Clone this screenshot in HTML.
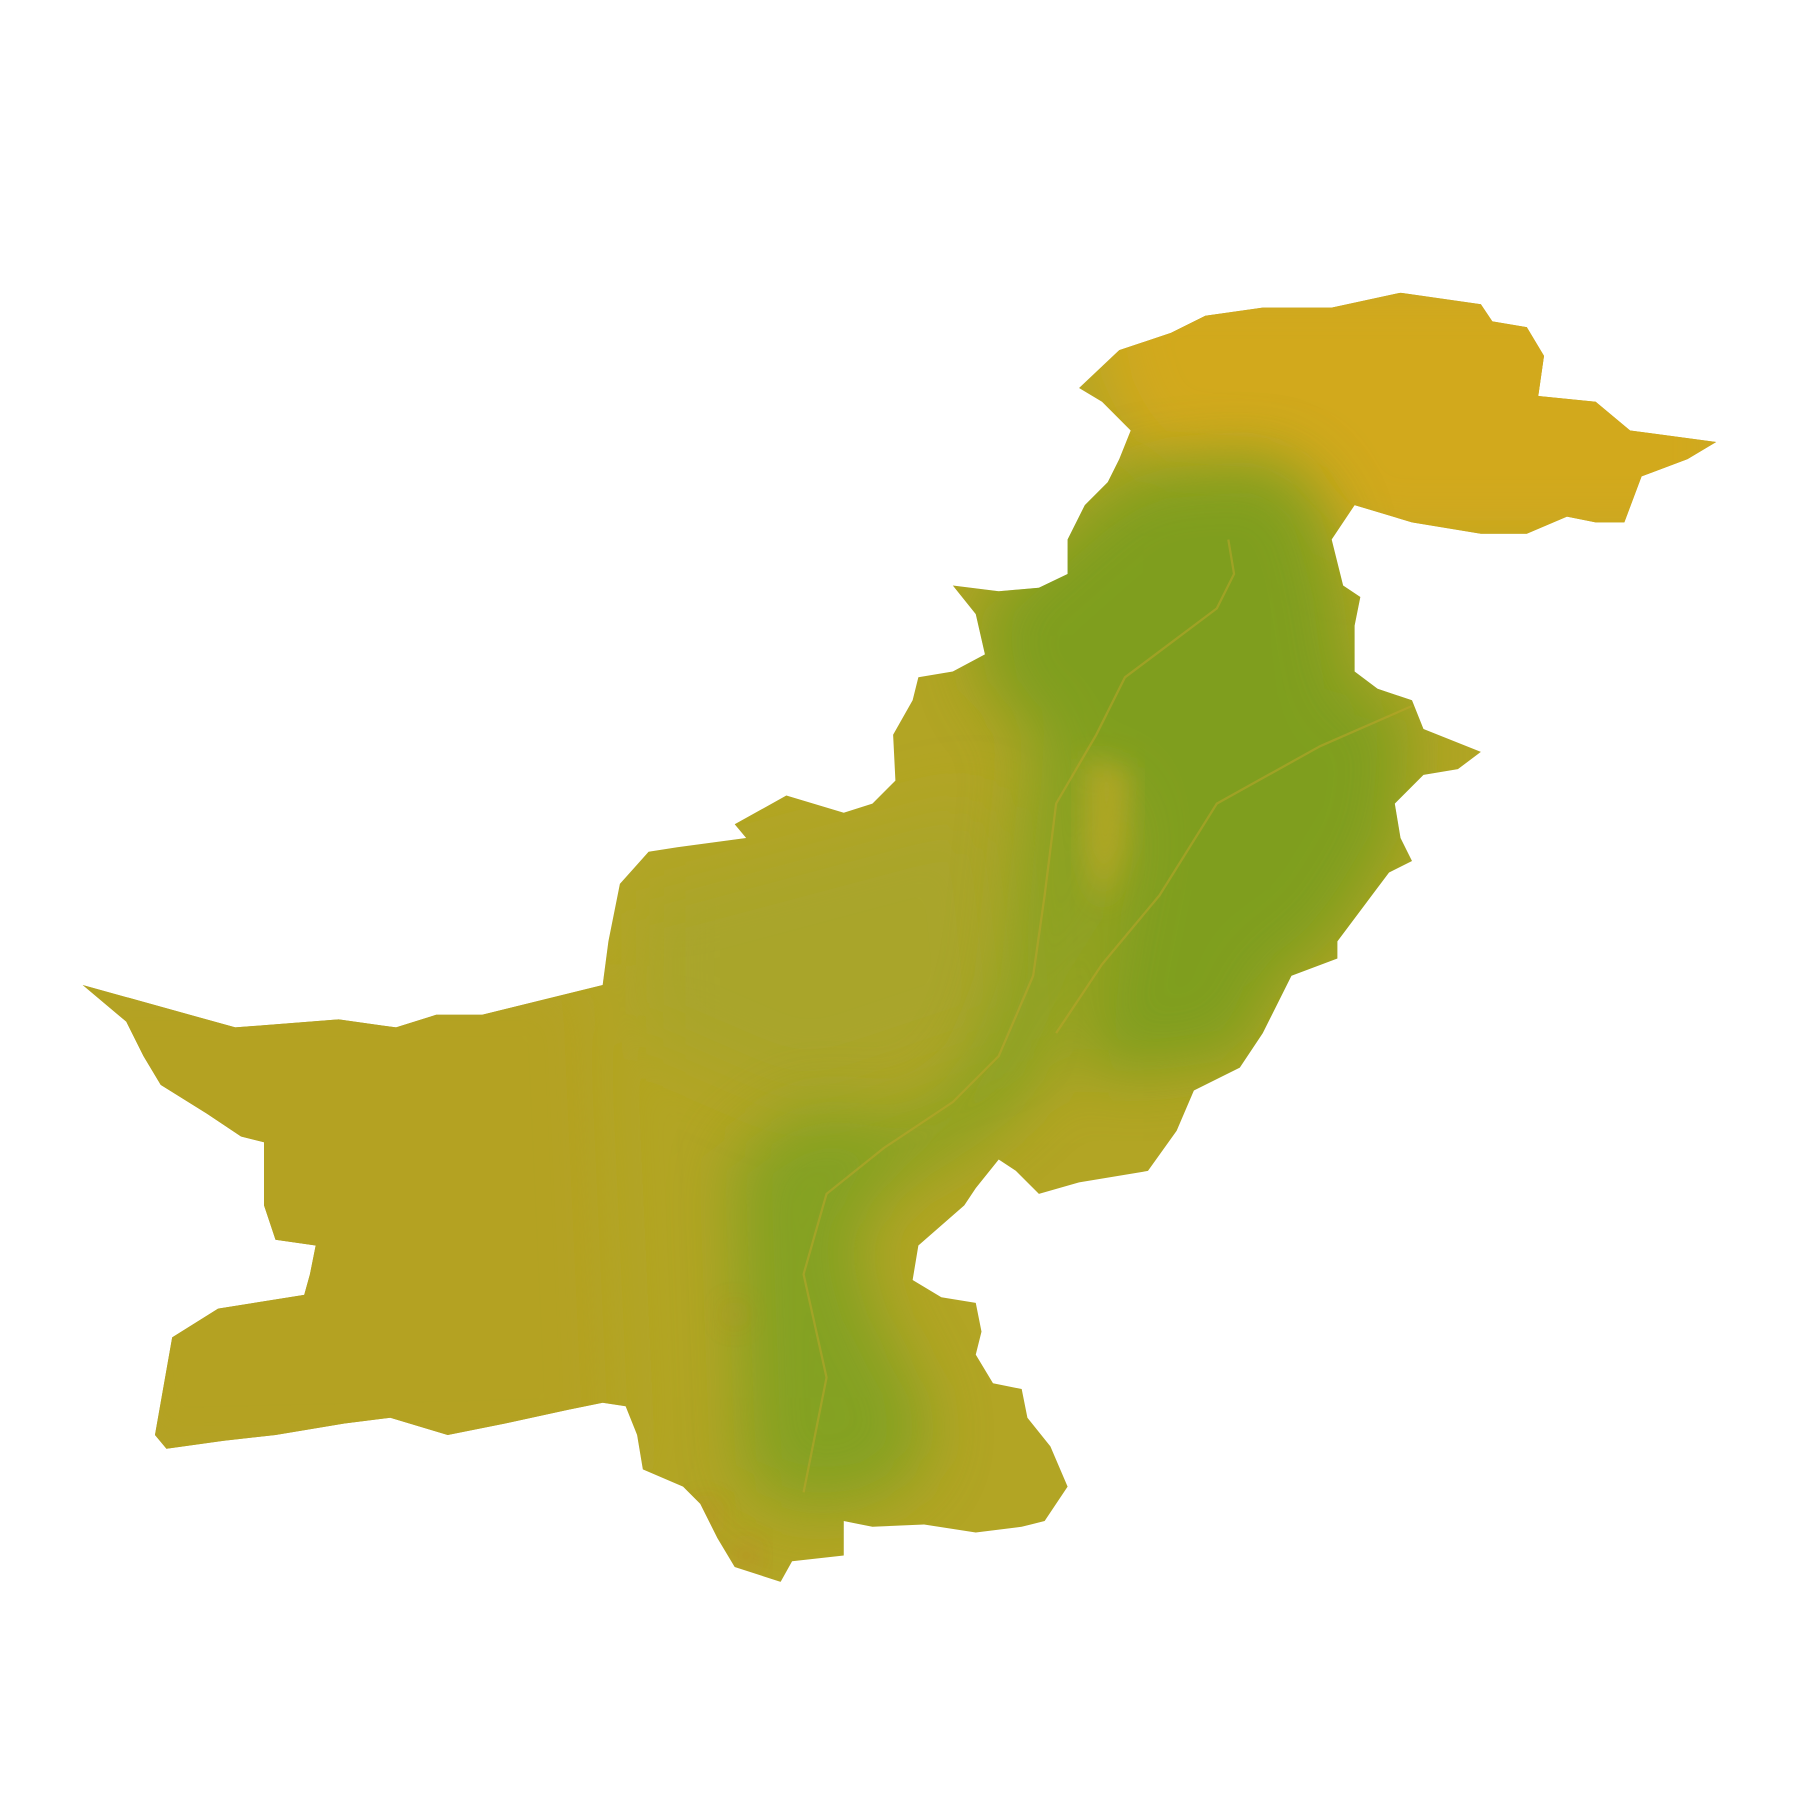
<!DOCTYPE html>
<html><head><meta charset="utf-8"><style>
html,body{margin:0;padding:0;background:#fff;width:1800px;height:1800px;overflow:hidden}
svg{display:block}
</style></head><body>
<svg width="1800" height="1800" viewBox="0 0 1568 1568" xmlns="http://www.w3.org/2000/svg">
<defs>
<clipPath id="cp"><polygon points="72,858 205,895 295,888 345,895 380,884 420,884 525,858 530,820 540,770 565,742 590,738 650,730 640,718 685,693 735,708 760,700 780,680 778,640 795,610 800,590 830,585 858,570 850,535 830,510 870,515 905,512 930,500 930,470 945,440 965,420 975,400 985,375 960,350 940,338 975,305 1020,290 1050,275 1100,268 1160,268 1220,255 1290,265 1300,280 1330,285 1345,310 1340,345 1390,350 1420,375 1495,385 1470,400 1430,415 1415,455 1390,455 1365,450 1330,465 1290,465 1230,455 1180,440 1160,470 1170,510 1185,520 1180,545 1180,585 1200,600 1230,610 1240,635 1290,655 1270,670 1240,675 1215,700 1220,730 1230,750 1210,760 1165,820 1165,835 1125,850 1100,900 1080,930 1040,950 1025,985 1000,1020 940,1030 905,1040 885,1020 870,1010 850,1035 840,1050 800,1085 795,1115 820,1130 850,1135 855,1160 850,1180 865,1205 890,1210 895,1235 915,1260 930,1295 910,1325 890,1330 850,1335 805,1328 760,1330 735,1325 735,1355 690,1360 680,1378 640,1365 625,1340 610,1310 595,1295 560,1280 555,1250 545,1225 525,1222 495,1228 440,1240 390,1250 340,1235 300,1240 240,1250 195,1255 145,1262 135,1250 150,1165 190,1140 265,1128 270,1110 275,1085 240,1080 230,1050 230,995 210,990 180,970 140,945 125,920 110,890"/></clipPath>
<filter id="bl" x="-30%" y="-30%" width="160%" height="160%"><feGaussianBlur stdDeviation="28"/></filter>
<filter id="bl2" x="-30%" y="-30%" width="160%" height="160%"><feGaussianBlur stdDeviation="12"/></filter>
</defs>
<g clip-path="url(#cp)">
<rect x="0" y="0" width="1568" height="1568" fill="#b2a524"/>
<g filter="url(#bl)">
<polygon points="40,840 520,840 540,1280 100,1290" fill="#b4a222"/>
<polygon points="940,230 1520,230 1520,480 1170,480 1130,410 990,400 960,330" fill="#d2a91b"/>
<polygon points="560,780 860,700 880,900 700,960 560,900" fill="#a9a52a"/>
</g>
<g filter="url(#bl)" opacity="0.75">
<polygon points="940,450 990,410 1110,400 1150,440 1170,520 1180,600 1230,615 1220,730 1165,820 1110,860 1090,920 990,935 940,930 960,820 980,720 950,650 900,640 860,600 850,530" fill="#6e9c1e"/>
<polygon points="900,650 955,640 960,720 945,800 925,870 900,950 840,1000 780,1030 745,1080 765,1150 800,1210 810,1260 780,1300 700,1315 650,1290 645,1150 640,1010 700,965 800,975 855,920 880,850 890,750" fill="#74a020"/>
</g>
<polygon filter="url(#bl2)" points="945,660 985,670 980,740 960,790 945,740" fill="#b8a826" opacity="0.8"/>
<g fill="none" stroke="#c0a52c" stroke-width="2" opacity="0.5">
<polyline points="1070,470 1075,500 1060,530 980,590 955,640 920,700 910,780 900,850 870,920 830,960 770,1000 720,1040 700,1110 720,1200 700,1300"/>
<polyline points="1230,615 1150,650 1060,700 1010,780 960,840 920,900"/>
</g>
<g fill="#d06a2a" opacity="0.6" filter="url(#bl2)">
<circle cx="640" cy="1145" r="6"/><circle cx="615" cy="1320" r="8"/><circle cx="650" cy="1355" r="8"/>
</g>
</g>
</svg>
</body></html>
